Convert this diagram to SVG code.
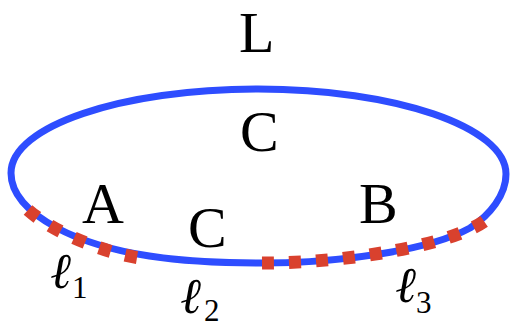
<svg xmlns="http://www.w3.org/2000/svg" width="513" height="329" viewBox="0 0 513 329">
<style>
.lbl{font-family:"Liberation Serif","Times New Roman",serif;font-size:58px;fill:#000}
.ell{font-family:"Liberation Serif","DejaVu Serif",serif;font-style:italic;font-weight:bold;font-size:50px;fill:#000}
.sub{font-family:"Liberation Serif","Times New Roman",serif;font-size:31px;fill:#000}
.loop{fill:none;stroke:#2e4dff;stroke-width:7}
.red{fill:none;stroke:#d9412e;stroke-width:13;stroke-dasharray:12 15}
</style>
<rect width="513" height="329" fill="#fff"/>
<g id="loop">
<path class="loop" d="M11,173 C11,126 122,89 258,89 C395,89 506,127 506,174 C506,195 490,215 470,228 C430,250 342,263 262,263 C182,263 110,256 57,228 C35,216 11,198 11,173 Z"/>
</g>
<g id="connectors">
<path id="l1" class="red" d="M28,210 C54,233 105,253 140,258"/>
<path id="l3" class="red" d="M262,263 C352,263 454,244 486,220"/>
</g>
<g id="labels">
<text class="lbl" x="239" y="52">L</text>
<text class="lbl" x="240" y="151">C</text>
<text class="lbl" x="82" y="223">A</text>
<text class="lbl" x="188" y="247">C</text>
<text class="lbl" x="359" y="223">B</text>
</g>
<g id="ell-labels">
<text class="ell" x="51" y="288">ℓ</text><text class="sub" x="72" y="298">1</text>
<text class="ell" x="181" y="313">ℓ</text><text class="sub" x="204" y="321">2</text>
<text class="ell" x="396" y="302">ℓ</text><text class="sub" x="416" y="313">3</text>
</g>
</svg>
